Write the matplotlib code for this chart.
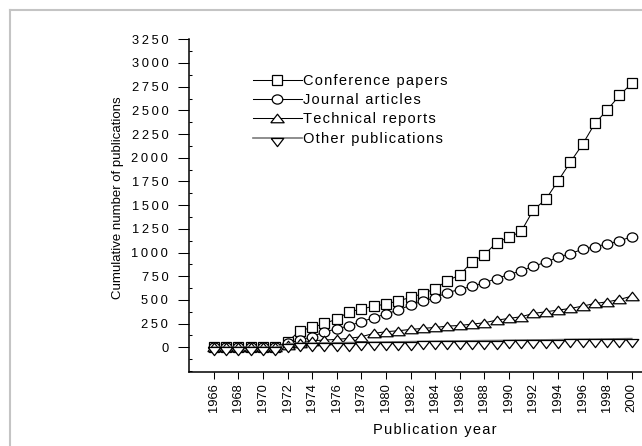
import numpy as np
import matplotlib
matplotlib.use("Agg")
import matplotlib.pyplot as plt
from matplotlib.lines import Line2D
from matplotlib.path import Path
from matplotlib.ticker import MultipleLocator, FuncFormatter

plt.rcParams['font.family'] = ['Liberation Sans', 'DejaVu Sans']

years = list(range(1966, 2001))

conference = [0, 0, 0, 0, 0, 0, 60, 175, 210, 252, 298, 375, 403, 435, 456, 491,
              526, 568, 617, 705, 762, 902, 975, 1105, 1160, 1223, 1450, 1560,
              1755, 1953, 2142, 2362, 2503, 2658, 2785]
journal = [0, 0, 0, 0, 0, 0, 42, 77, 112, 165, 193, 228, 270, 312, 351, 393,
           445, 487, 522, 578, 610, 645, 680, 726, 768, 806, 855, 898, 950,
           989, 1034, 1062, 1090, 1122, 1168]
technical = [0, 0, 0, 0, 0, 0, 25, 42, 70, 77, 84, 95, 112, 147, 165, 175,
             189, 200, 210, 224, 231, 245, 259, 287, 305, 323, 358, 375, 393,
             410, 435, 463, 480, 505, 540]
other = [0, 0, 0, 0, 0, 0, 38, 41, 43, 46, 48, 50, 52, 54, 56, 58, 60, 62,
         64, 66, 67, 69, 71, 72, 74, 76, 78, 79, 81, 83, 85, 86, 88, 90, 92]

labels = ["Conference papers", "Journal articles", "Technical reports",
          "Other publications"]

xtick_years = list(range(1966, 2001, 2))
ytick_values = list(range(0, 3251, 250))

HAIR = "\u200a"
THIN = "\u2009"


def spaced(s, sep=HAIR):
    return sep.join(s)


# custom marker shapes
ellipse = Path(Path.unit_circle().vertices * np.array([1.0, 0.87]),
               Path.unit_circle().codes)
tri_up = [(-1, -0.64), (1, -0.64), (0, 0.64), (-1, -0.64)]
tri_down = [(-1, 0), (1, 0), (0, -1.3), (-1, 0)]

W, H = 642, 446
fig = plt.figure(figsize=(W / 100, H / 100), dpi=100)

# grey frame (left and top edges)
fig.add_artist(Line2D([10 / W, 10 / W], [1 - 10 / H, 0], transform=fig.transFigure,
                      color="#c4c4c4", lw=1.5))
fig.add_artist(Line2D([10 / W, 1], [1 - 10 / H, 1 - 10 / H], transform=fig.transFigure,
                      color="#c4c4c4", lw=1.5))

px_year = 12.29
ax = fig.add_axes([189.3 / W, 1 - 371.7 / H, 40 * px_year / W, (371.7 - 39.3) / H])

mk = dict(markerfacecolor="white", markeredgecolor="black", markeredgewidth=0.9)
ax.plot(years, conference, color="black", lw=0.75, marker="s", ms=6.9, label=spaced(labels[0]), **mk)
ax.plot(years, journal, color="black", lw=0.75, marker=ellipse, ms=7.6, label=spaced(labels[1]), **mk)
ax.plot(years, technical, color="black", lw=0.75, marker=tri_up, ms=9.6, label=spaced(labels[2]), **mk)
ax.plot(years, other, color="#7a7a7a", lw=1.2, marker=tri_down, ms=11.7, label=spaced(labels[3]), **mk)

ax.set_xlim(1964, 2004)
ax.set_ylim(-257, 3250)

for s in ["top", "right"]:
    ax.spines[s].set_visible(False)
for s in ["left", "bottom"]:
    ax.spines[s].set_linewidth(1.1)

ax.set_xticks(xtick_years)
ax.set_xticklabels([str(y) for y in xtick_years], rotation=90, fontsize=9.3)
ax.set_yticks(ytick_values)
ax.yaxis.set_minor_locator(MultipleLocator(125))
ax.yaxis.set_major_formatter(FuncFormatter(lambda v, p: spaced(str(int(round(v))), THIN)))
ax.tick_params(axis="y", which="major", direction="out", length=7.9, width=0.75,
               pad=7.2, labelsize=9.3)
ax.tick_params(axis="y", which="minor", direction="in", length=2.2, width=0.75)
ax.tick_params(axis="x", which="major", direction="out", length=5, width=0.75, pad=3.3)

ax.set_xlabel(spaced("Publication year"), fontsize=10.5, labelpad=7.8)
fig.text(118 / W, 1 - 198 / H, "Cumulative number of publications", rotation=90,
         fontsize=9.5, ha="center", va="center")

ax.legend(loc="upper left", bbox_to_anchor=(253 / W, 1 - 74 / H),
          bbox_transform=fig.transFigure, frameon=False, fontsize=10.5,
          handlelength=3.34, handletextpad=0.11, labelspacing=0.36,
          borderpad=0, borderaxespad=0, numpoints=1)

fig.savefig("out.png", dpi=100)
